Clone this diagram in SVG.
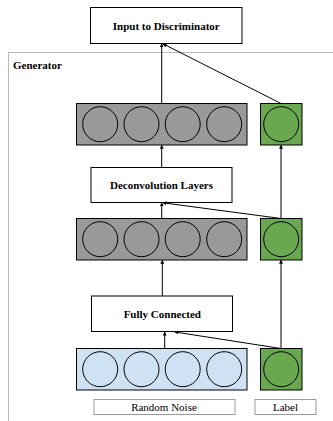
<svg xmlns="http://www.w3.org/2000/svg" width="333" height="421" viewBox="0 0 333 421">
<defs>
<marker id="ah" markerWidth="4" markerHeight="4" refX="3.5" refY="2" orient="auto" markerUnits="userSpaceOnUse">
<path d="M0,0 L4,2 L0,4 z" fill="#000"/>
</marker>
<style>
.box{fill:#fff;stroke:#000;stroke-width:1}
.gray{fill:#999999;stroke:#000;stroke-width:1}
.green{fill:#6aa84f;stroke:#000;stroke-width:1}
.blue{fill:#cfe2f3;stroke:#000;stroke-width:1}
.lbl{fill:#fff;stroke:#999;stroke-width:1}
.bt{font-family:"Liberation Serif","Times New Roman",serif;font-weight:bold;font-size:11px;text-anchor:middle;fill:#000}
.nt{font-family:"Liberation Serif","Times New Roman",serif;font-size:11px;text-anchor:middle;fill:#000}
.c{stroke:#000;stroke-width:1;fill:none;marker-end:url(#ah)}
</style>
</defs>
<rect width="333" height="421" fill="#fff"/>
<g id="generator">
<rect x="8.5" y="52.5" width="340" height="380" fill="none" stroke="#bbb" stroke-width="1"/>
<text x="13" y="68.5" font-family="Liberation Serif,serif" font-weight="bold" font-size="11" fill="#000">Generator</text>
</g>
<g id="input-discriminator">
<rect class="box" x="90.5" y="7.5" width="151.5" height="36"/>
<text class="bt" x="166.3" y="29.5">Input to Discriminator</text>
</g>
<g id="gray-row-1">
<rect class="gray" x="76.5" y="103.5" width="170.5" height="41.5"/>
<circle cx="100.2" cy="124.2" r="17.5" fill="none" stroke="#000"/>
<circle cx="141.5" cy="124.2" r="17.5" fill="none" stroke="#000"/>
<circle cx="182.7" cy="124.2" r="17.5" fill="none" stroke="#000"/>
<circle cx="224.2" cy="124.2" r="17.5" fill="none" stroke="#000"/>
</g>
<g id="green-1">
<rect class="green" x="260.5" y="103.5" width="41.5" height="41.5"/>
<circle cx="281.2" cy="124.2" r="17.5" fill="none" stroke="#000"/>
</g>
<g id="deconv">
<rect class="box" x="91" y="167.5" width="141" height="35"/>
<text class="bt" x="161.5" y="188.8">Deconvolution Layers</text>
</g>
<g id="gray-row-2">
<rect class="gray" x="76.5" y="218.5" width="170.5" height="41.5"/>
<circle cx="100.2" cy="239.2" r="17.5" fill="none" stroke="#000"/>
<circle cx="141.5" cy="239.2" r="17.5" fill="none" stroke="#000"/>
<circle cx="182.7" cy="239.2" r="17.5" fill="none" stroke="#000"/>
<circle cx="224.2" cy="239.2" r="17.5" fill="none" stroke="#000"/>
</g>
<g id="green-2">
<rect class="green" x="260.5" y="218.5" width="41.5" height="41.5"/>
<circle cx="281.2" cy="239.2" r="17.5" fill="none" stroke="#000"/>
</g>
<g id="fully-connected">
<rect class="box" x="91.5" y="296" width="141" height="35.5"/>
<text class="bt" x="162.3" y="317.8">Fully Connected</text>
</g>
<g id="blue-row">
<rect class="blue" x="76.5" y="348.5" width="170.5" height="41.5"/>
<circle cx="100.2" cy="369.2" r="17.5" fill="none" stroke="#000"/>
<circle cx="141.5" cy="369.2" r="17.5" fill="none" stroke="#000"/>
<circle cx="182.7" cy="369.2" r="17.5" fill="none" stroke="#000"/>
<circle cx="224.2" cy="369.2" r="17.5" fill="none" stroke="#000"/>
</g>
<g id="green-3">
<rect class="green" x="260.5" y="348.5" width="41.5" height="41.5"/>
<circle cx="281.2" cy="369.2" r="17.5" fill="none" stroke="#000"/>
</g>
<g id="random-noise">
<rect class="lbl" x="94" y="399.5" width="141" height="15"/>
<text class="nt" x="164" y="410.8">Random Noise</text>
</g>
<g id="label">
<rect class="lbl" x="255" y="399.5" width="61" height="15"/>
<text class="nt" x="285.5" y="410.8">Label</text>
</g>
<g id="connectors">
<line class="c" x1="161.7" y1="103.5" x2="161.7" y2="43.8"/>
<line class="c" x1="281" y1="103.5" x2="163" y2="43.8"/>
<line class="c" x1="161.7" y1="167.5" x2="161.7" y2="145.3"/>
<line class="c" x1="281" y1="218.5" x2="281" y2="145.3"/>
<line class="c" x1="161.7" y1="218.5" x2="161.7" y2="202.8"/>
<line class="c" x1="281" y1="218.5" x2="163" y2="202.8"/>
<line class="c" x1="162.3" y1="296" x2="162.3" y2="260.3"/>
<line class="c" x1="281" y1="348.5" x2="281" y2="260.3"/>
<line class="c" x1="164.7" y1="348.5" x2="164.7" y2="332"/>
<line class="c" x1="281" y1="348.5" x2="175" y2="332"/>
</g>
</svg>
